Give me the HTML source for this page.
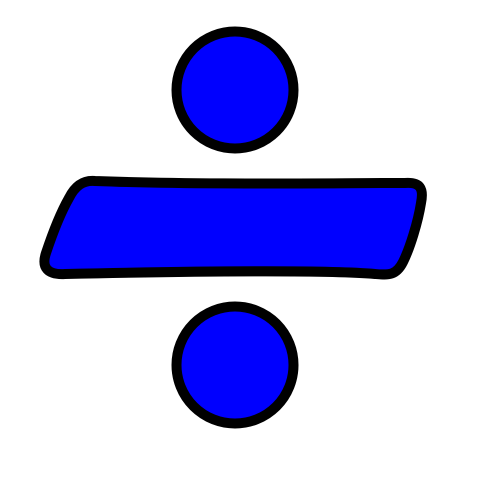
<!DOCTYPE html>
<html><head><meta charset="utf-8"><style>html,body{margin:0;padding:0;background:#fff;width:480px;height:480px;overflow:hidden}</style></head>
<body>
<svg width="480" height="480" viewBox="0 0 480 480">
  <circle cx="235" cy="90" r="58.5" fill="#0000ff" stroke="#000" stroke-width="10"/>
  <path d="M 95,181 C 200,185 330,183 405,183 C 420,182 424,188 421,203 C 418,222 410,248 403,262 C 396,276 388,275 375,274 C 330,270 200,271 65,274 C 48,275 41,268 46,253 C 52,235 61,212 69,198 C 75,186 83,180 95,181 Z" fill="#0000ff" stroke="#000" stroke-width="10" stroke-linejoin="round"/>
  <circle cx="235" cy="365" r="58.5" fill="#0000ff" stroke="#000" stroke-width="10"/>
</svg>
</body></html>
